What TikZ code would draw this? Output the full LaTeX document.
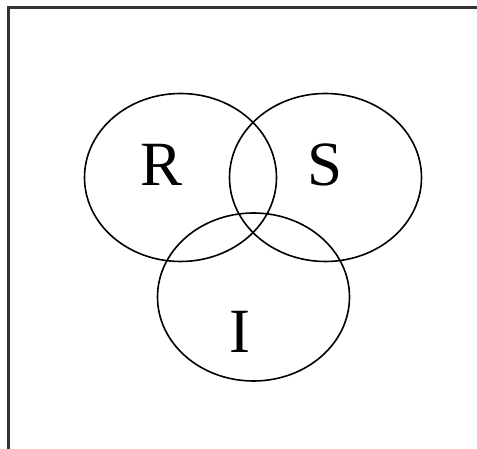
\documentclass[tikz,border=0pt]{standalone}
\usepackage{fontspec}
\setmainfont{Liberation Serif}
\usetikzlibrary{shapes.geometric}

\begin{document}
\begin{tikzpicture}[
    x=1pt, y=1pt,
    set/.style={ellipse, draw, line width=1.6pt, inner sep=0pt,
                minimum width=192pt, minimum height=168pt},
    letter/.style={font=\fontsize{63}{70}\selectfont, inner sep=0pt},
    frame/.style={draw=black!80, line width=2.4pt}
]
\useasboundingbox (0,0) rectangle (477,449);
\coordinate (fbot) at (8.5,0);
\coordinate (fcorner) at (8.5,441.5);
\coordinate (fright) at (477,441.5);
\draw[frame] (fbot) -- (fcorner) -- (fright);
% the three sets
\node[set] (setR) at (180.5,271.5) {};
\node[set] (setS) at (325.5,271.5) {};
\node[set] (setI) at (253.5,152) {};
\node[letter] (labR) at (162,284) {R};
\node[letter] (labS) at (325,284) {S};
\node[letter] (labI) at (240,117) {I};
\end{tikzpicture}
\end{document}
